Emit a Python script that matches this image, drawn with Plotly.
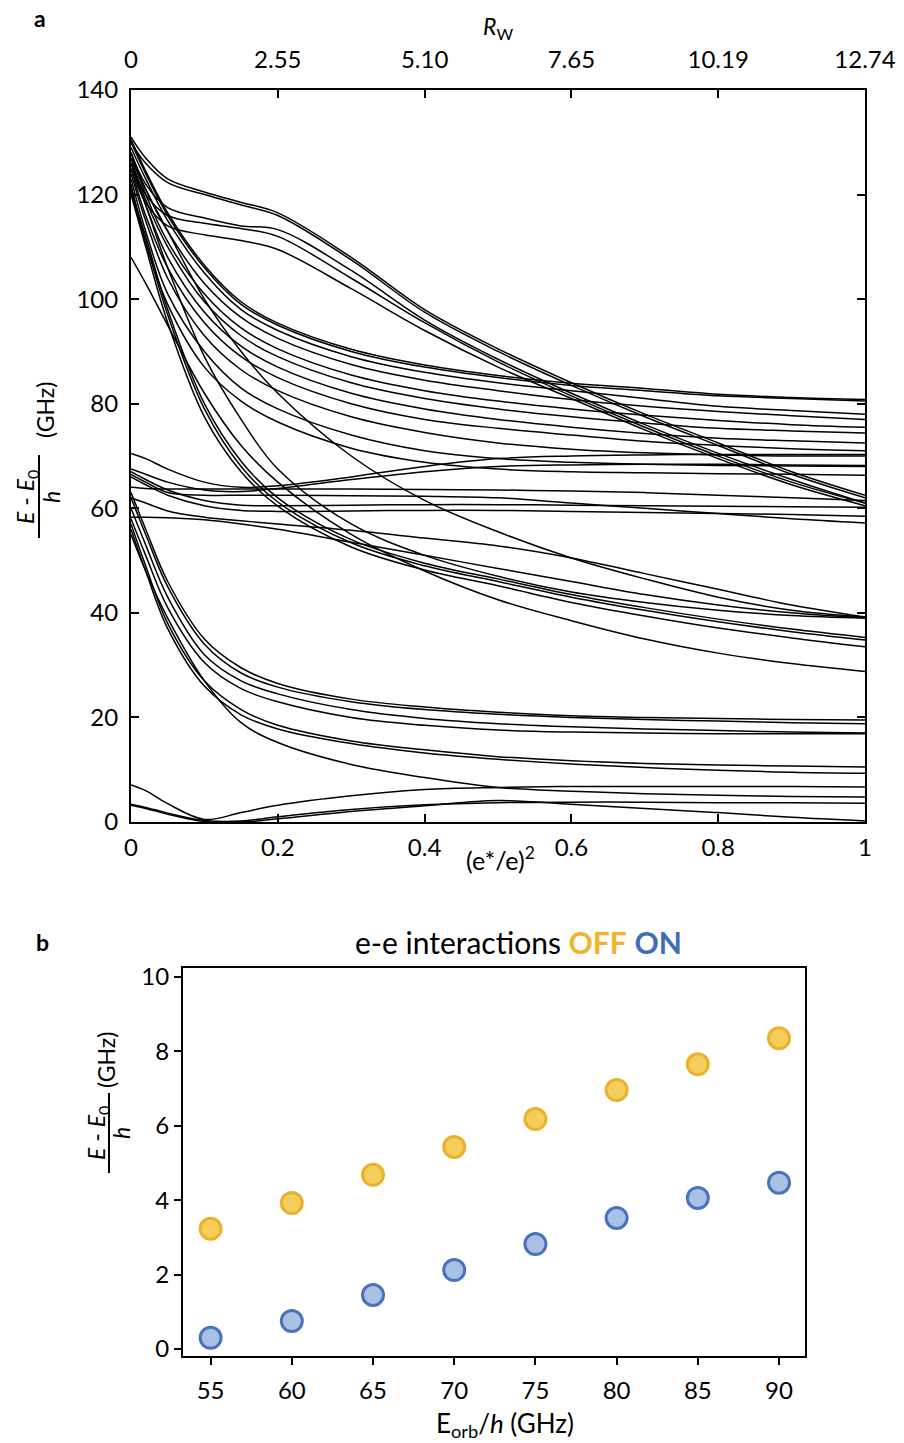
import plotly.graph_objects as go

# ---------------- Panel a data ----------------
coupling = [0, 0.02, 0.05, 0.1, 0.15, 0.2, 0.3, 0.4, 0.5, 0.6, 0.7, 0.8, 0.9, 1.0]
x_ticks = [0, 0.2, 0.4, 0.6, 0.8, 1.0]
x_labels = ["0", "0.2", "0.4", "0.6", "0.8", "1"]
rw_labels = ["0", "2.55", "5.10", "7.65", "10.19", "12.74"]
y_ticks_a = [0, 20, 40, 60, 80, 100, 120, 140]

# upper levels with plateau then descent
level_T1 = [131, 127, 123, 120.5, 118.5, 116.5, 108, 98, 90.5, 84, 78, 72.5, 67, 62.5]
level_T2 = [130, 126, 122.3, 120, 118, 116, 107.5, 97.5, 90, 83.5, 77.5, 72, 66.5, 62]
level_T3 = [128, 122, 117.5, 115.5, 114, 113.3, 105.5, 96, 88.5, 82, 76, 70.5, 65.5, 61]
level_T4 = [125, 118.5, 114, 112.3, 111.2, 109.5, 102, 94, 87, 81, 75, 69.5, 64.5, 60.5]
level_T5 = [126, 120, 116, 114.5, 113.5, 112, 104, 95.5, 88, 81.5, 75.5, 70, 65, 61]
# middle levels
level_M1 = [130, 124, 116, 106, 99, 95, 90, 87, 85, 83.5, 82.5, 81.5, 81, 80.5]
level_M1b = [130.5, 124.5, 116.5, 106.5, 99.5, 95.4, 90.4, 87.4, 85.4, 83.9, 82.9, 81.8, 81.2, 80.8]
level_M2 = [129, 123, 115, 105, 98, 94, 89, 86, 84, 82.5, 81, 79.5, 78.7, 78]
level_M3 = [128, 121, 113, 103, 96.5, 92.5, 87.5, 84.5, 82.5, 80.8, 79.5, 78.5, 77.7, 77]
level_M4 = [128, 120, 111, 101, 94.5, 90.5, 85.5, 82.5, 80.5, 79, 77.8, 76.8, 76, 75.5]
level_M5 = [127, 119, 110, 99.5, 93, 89, 84, 81, 79, 77.5, 76.3, 75.3, 74.8, 74.4]
level_M6 = [126, 118, 108, 97.5, 91, 87, 82, 79, 77, 75.5, 74.3, 73.4, 72.9, 72.5]
level_M7 = [125, 116, 106, 95.5, 89, 85, 80, 77, 75.3, 74, 72.8, 72, 71.4, 71]
level_M8 = [124, 115, 104, 93, 86.5, 82.5, 77.5, 74.5, 72.5, 71.3, 70.6, 70.2, 70, 70]
level_M9 = [123, 113, 101, 90, 83, 79, 74, 71, 69.5, 68.8, 68.4, 68.2, 68.1, 68]
level_M10 = [122, 111, 99, 87, 80.5, 76.5, 71.5, 68.8, 67.5, 67, 66.8, 66.6, 66.5, 66.3]
# near-flat levels around 60-70
level_H1 = [70.5, 69.5, 67.5, 65, 64, 64.3, 66, 68, 69.5, 70, 70.2, 70.3, 70.3, 70.3]
level_H2 = [67.5, 66.5, 65, 63.5, 63.2, 63.8, 65.5, 67, 68, 68.3, 68.4, 68.4, 68.3, 68.2]
level_H3 = [64, 63.8, 63.7, 63.7, 63.7, 63.7, 63.7, 63.6, 63.5, 63.3, 63, 62.5, 62, 61.5]
level_H4 = [67, 65.5, 63.5, 61.5, 60.6, 60.5, 60.6, 60.7, 60.7, 60.6, 60.5, 60.4, 60.3, 60.2]
level_H5 = [66, 64.5, 62.5, 60.5, 59.6, 59.4, 59.5, 59.6, 59.6, 59.4, 59.2, 59, 58.8, 58.5]
level_H6 = [58.3, 58.3, 58.2, 57.8, 57, 56, 53.5, 51, 48.5, 46, 43.5, 41.5, 40, 39]
level_H7 = [62, 61, 59.5, 58.3, 57.6, 57, 55.8, 54.3, 52.8, 50.5, 47.5, 44.5, 41.5, 39.2]
level_H8 = [66.5, 65, 63, 62.5, 62.5, 62.5, 62.4, 62.3, 62, 61, 60, 59, 58, 57.2]
# steep levels ending 29-39
level_E1 = [126, 118, 106, 89, 77, 67.5, 57, 51, 47, 44, 42, 40.5, 39.5, 39]
level_E2 = [127, 121, 113, 100, 90, 82, 70, 61.5, 55.5, 50.5, 46.5, 43, 40.5, 39.2]
level_E3 = [121, 112, 98, 80, 69, 62, 54, 49.5, 46.5, 43.5, 41, 38.8, 36.9, 35.3]
level_E4 = [120.5, 111, 97, 79, 68, 61.2, 53.4, 49, 46, 43, 40.5, 38.3, 36.4, 34.8]
level_E5 = [120, 110, 95.5, 77.5, 67, 60.4, 52.6, 48.2, 45.2, 42, 39.4, 37.1, 35.2, 33.5]
level_E6 = [108, 103, 95, 82, 72, 65, 55, 48, 42.5, 38.5, 35, 32.3, 30.3, 28.8]
# lower levels ending 17-20
level_B1 = [63, 56, 46, 35, 29.5, 26.5, 23.5, 22, 21, 20.3, 20, 19.8, 19.6, 19.5]
level_B2 = [62, 55, 45, 34, 28.5, 25.8, 23, 21.5, 20.6, 20, 19.6, 19.3, 19, 18.8]
level_B3 = [60, 53, 43, 32, 27, 24.5, 21.5, 19.8, 18.8, 18.2, 17.8, 17.5, 17.2, 17]
level_B4 = [58, 51, 41, 30.5, 25.5, 23, 20, 18.5, 17.6, 17.2, 17, 16.9, 16.9, 16.9]
# levels ending near 10
level_C1 = [57, 49, 38, 27, 21.5, 18.5, 15.5, 13.8, 12.5, 11.7, 11.2, 10.9, 10.7, 10.5]
level_C2 = [56, 48, 37, 26, 20.5, 17.8, 15, 13.2, 12.0, 11.1, 10.4, 9.9, 9.5, 9.3]
level_D1 = [55, 48, 39, 27, 19, 15.2, 11, 8.5, 6.6, 5.9, 5.4, 5.1, 4.9, 4.8]
# lowest levels
level_L1 = [7.1, 6.0, 3.5, 0.5, 1.8, 3.2, 5.0, 6.2, 6.6, 6.8, 6.8, 6.8, 6.8, 6.7]
level_L2 = [3.4, 2.8, 1.7, 0.3, 0.2, 1.0, 2.4, 3.3, 3.7, 3.8, 3.8, 3.7, 3.7, 3.6]
level_L3 = [3.2, 2.6, 1.5, 0.1, 0.0, 0.6, 2.0, 3.1, 4.1, 3.4, 2.6, 1.8, 0.9, 0.2]

levels = [level_T1, level_T2, level_T3, level_T4, level_T5,
          level_M1, level_M1b, level_M2, level_M3, level_M4, level_M5, level_M6,
          level_M7, level_M8, level_M9, level_M10,
          level_H1, level_H2, level_H3, level_H4, level_H5, level_H6, level_H7, level_H8,
          level_E1, level_E2, level_E3, level_E4, level_E5, level_E6,
          level_B1, level_B2, level_B3, level_B4, level_C1, level_C2, level_D1,
          level_L1, level_L2, level_L3]

# ---------------- Panel b data ----------------
e_orb = [55, 60, 65, 70, 75, 80, 85, 90]
gap_off = [3.23, 3.92, 4.68, 5.43, 6.18, 6.96, 7.65, 8.35]
gap_on = [0.30, 0.75, 1.45, 2.12, 2.82, 3.52, 4.06, 4.47]
y_ticks_b = [0, 2, 4, 6, 8, 10]

FONT = "Lato"
W, H = 904, 1443

def px(x):
    return x / W

def py(y):
    return 1 - y / H

fig = go.Figure()

for lv in levels:
    fig.add_trace(go.Scatter(x=coupling, y=lv, mode="lines",
                             line=dict(color="black", width=1.5, shape="spline"),
                             xaxis="x", yaxis="y", showlegend=False, hoverinfo="skip"))
# dummy trace for top axis
fig.add_trace(go.Scatter(x=[0, 1], y=[-10, -10], mode="lines", line=dict(width=0),
                         xaxis="x2", yaxis="y", showlegend=False, hoverinfo="skip"))

fig.add_trace(go.Scatter(x=e_orb, y=gap_off, mode="markers",
                         marker=dict(size=21, color="#F5CD5A", line=dict(color="#E9B22C", width=3)),
                         xaxis="x3", yaxis="y3", showlegend=False))
fig.add_trace(go.Scatter(x=e_orb, y=gap_on, mode="markers",
                         marker=dict(size=21, color="#A9C1E4", line=dict(color="#4A73BA", width=3)),
                         xaxis="x3", yaxis="y3", showlegend=False))

axis_common = dict(showgrid=False, zeroline=False, showline=True, linecolor="black",
                   linewidth=2, tickcolor="black", tickwidth=2, automargin=False,
                   tickfont=dict(family=FONT, size=24, color="black"))

fig.update_layout(
    template="none",
    width=W, height=H, margin=dict(l=0, r=0, t=0, b=0, pad=0), autosize=False,
    paper_bgcolor="white", plot_bgcolor="white",
    font=dict(family=FONT, color="black"),
    xaxis=dict(domain=[px(131), px(865)], range=[0, 1], anchor="y",
               tickvals=x_ticks, ticktext=x_labels, ticks="inside", ticklen=8,
               mirror=True, ticklabelstandoff=3, **axis_common),
    xaxis2=dict(overlaying="x", side="top", anchor="y", range=[0, 1],
                tickvals=x_ticks, ticktext=rw_labels, ticks="inside", ticklen=8,
                ticklabelstandoff=10, **axis_common),
    yaxis=dict(domain=[py(822), py(90)], range=[0, 140], anchor="x",
               tickvals=y_ticks_a, ticks="inside", ticklen=8, mirror="ticks",
               ticklabelstandoff=6, **axis_common),
    xaxis3=dict(domain=[px(183), px(805)], range=[53.3, 91.6], anchor="y3",
                tickvals=e_orb, ticks="outside", ticklen=7, mirror=True,
                ticklabelstandoff=5, **axis_common),
    yaxis3=dict(domain=[py(1356), py(968)], range=[-0.19, 10.24], anchor="x3",
                tickvals=y_ticks_b, ticks="outside", ticklen=7, mirror=True,
                ticklabelstandoff=0, **axis_common),
)

ann = []
def add_text(x, y, text, size=22, angle=0, xanchor="center", yanchor="middle", color="black"):
    ann.append(dict(xref="paper", yref="paper", x=px(x), y=py(y), text=text,
                    showarrow=False, textangle=angle, xanchor=xanchor, yanchor=yanchor,
                    font=dict(family=FONT, size=size, color=color)))

add_text(40, 18, "<b>a</b>", size=23)
add_text(42, 942, "<b>b</b>", size=23)
add_text(498, 28, "<i>R</i><sub>W</sub>", size=23)
add_text(500, 858, "(e*/e)<sup>2</sup>", size=25)

# panel a y label (fraction)
add_text(26, 497, "<i>E</i> - <i>E</i><sub>0</sub>", size=23, angle=-90)
add_text(51, 497, "<i>h</i>", size=23, angle=-90)
add_text(45, 410, "(GHz)", size=23, angle=-90)

# panel b labels
add_text(518, 942, "e-e interactions <b><span style='color:#F0B429'>OFF</span></b> "
                   "<b><span style='color:#3F6DB5'>ON</span></b>", size=30)
add_text(505, 1424, "E<sub>orb</sub>/<i>h</i> (GHz)", size=26)
add_text(97, 1133, "<i>E</i> - <i>E</i><sub>0</sub>", size=23, angle=-90)
add_text(121, 1133, "<i>h</i>", size=23, angle=-90)
add_text(106, 1060, "(GHz)", size=23, angle=-90)

fig.update_layout(annotations=ann)

fig.add_shape(type="line", xref="paper", yref="paper",
              x0=px(39), x1=px(39), y0=py(455), y1=py(538),
              line=dict(color="black", width=2))
fig.add_shape(type="line", xref="paper", yref="paper",
              x0=px(109), x1=px(109), y0=py(1093), y1=py(1173),
              line=dict(color="black", width=2))

fig.write_html("out.html")
